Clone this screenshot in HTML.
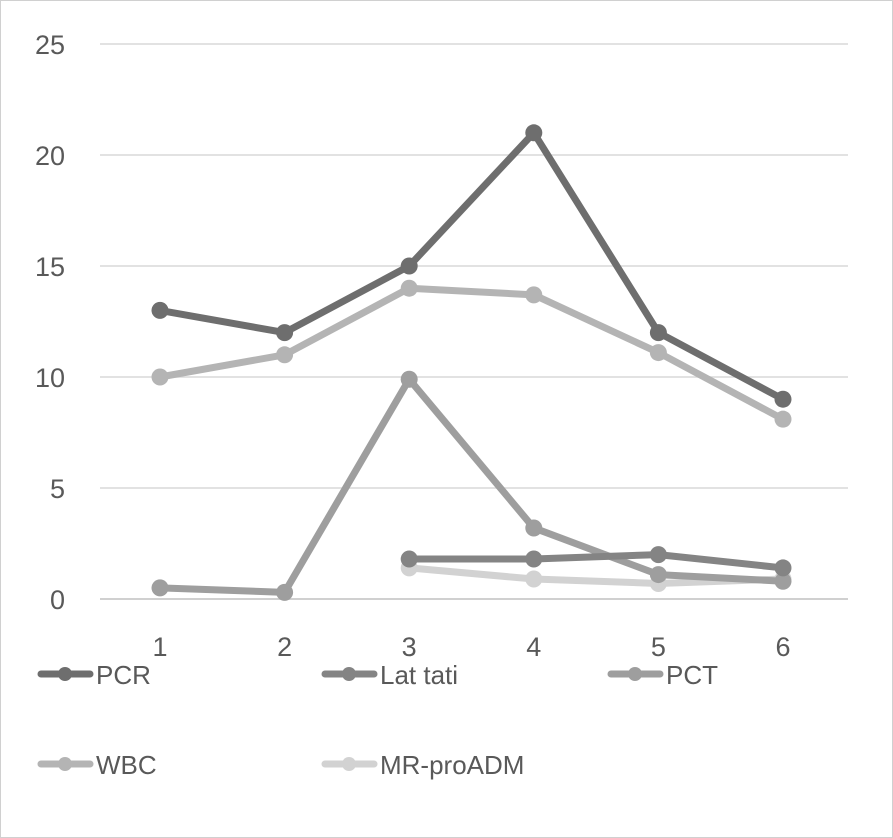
<!DOCTYPE html>
<html><head><meta charset="utf-8"><style>
html,body{margin:0;padding:0;background:#fff}
svg{display:block}
text{font-family:"Liberation Sans",sans-serif;fill:#595959}
</style></head><body>
<svg id="chart" width="893" height="838" xmlns="http://www.w3.org/2000/svg">
<rect x="0.5" y="0.5" width="892" height="837" fill="#fff" stroke="#d0d0d0"/>
<g id="grid"></g><g id="series"></g><g id="legend"></g>
</svg>
<script>
const categories=["1","2","3","4","5","6"];
const yTicks=[0,5,10,15,20,25];
const seriesNames=["PCR","Lattati","PCT","WBC","MR-proADM"];
const pcr=[13,12,15,21,12,9];
const lattati=[null,null,1.8,1.8,2.0,1.4];
const pct=[0.5,0.3,9.9,3.2,1.1,0.8];
const wbc=[10,11,14,13.7,11.1,8.1];
const mrproadm=[null,null,1.4,0.9,0.7,0.9];
const colors=["#6e6e6e","#848484","#9e9e9e","#b4b4b4","#d2d2d2"];
const NS="http://www.w3.org/2000/svg";
const y=v=>599-v*22.2;
const x=i=>160+i*124.6;
function mk(tag,attrs,parent){const e=document.createElementNS(NS,tag);for(const k in attrs)e.setAttribute(k,attrs[k]);parent.appendChild(e);return e;}
const grid=document.getElementById('grid');
yTicks.forEach(t=>{
  const l=mk('line',{x1:100,x2:848,y1:y(t),y2:y(t),stroke:t===0?'#d0d0d0':'#d9d9d9','stroke-width':t===0?2:1.5},grid);
  
  
  const tx=mk('text',{x:65,y:y(t)+10,'text-anchor':'end','font-size':27},grid);
  tx.textContent=t;
  
  
});
categories.forEach((c,i)=>{
  const tx=mk('text',{x:x(i),y:656,'text-anchor':'middle','font-size':27},grid);
  tx.textContent=c;
  
  
});
const data=[pcr,lattati,pct,wbc,mrproadm];
const sg=document.getElementById('series');
[4,3,2,1,0].forEach(s=>{
  const g=mk('g',{},sg);
  
  
  const pts=[];data[s].forEach((v,i)=>{if(v!==null)pts.push([x(i),y(v)]);});
  const p=mk('polyline',{points:pts.map(q=>q.join(',')).join(' '),fill:'none',stroke:colors[s],'stroke-width':7,'stroke-linejoin':'round','stroke-linecap':'round'},g);
  
  
  pts.forEach((q,k)=>{
    const c=mk('circle',{cx:q[0],cy:q[1],r:8.5,fill:colors[s]},g);
    
    
  });
});
const lg=document.getElementById('legend');
const lpos=[[38,674],[322,674],[608,674],[38,764],[322,764]];
seriesNames.forEach((n,s)=>{
  const [lx,ly]=lpos[s];
  const g=mk('g',{},lg);
  
  
  mk('line',{x1:lx+3,x2:lx+52,y1:ly,y2:ly,stroke:colors[s],'stroke-width':7,'stroke-linecap':'round'},g);
  mk('circle',{cx:lx+27,cy:ly,r:7,fill:colors[s]},g);
  const t=mk('text',{x:lx+58,y:ly+10,'font-size':26},g);
  t.textContent=n==="Lattati"?"Lat tati":n;
});
</script>
</body></html>
